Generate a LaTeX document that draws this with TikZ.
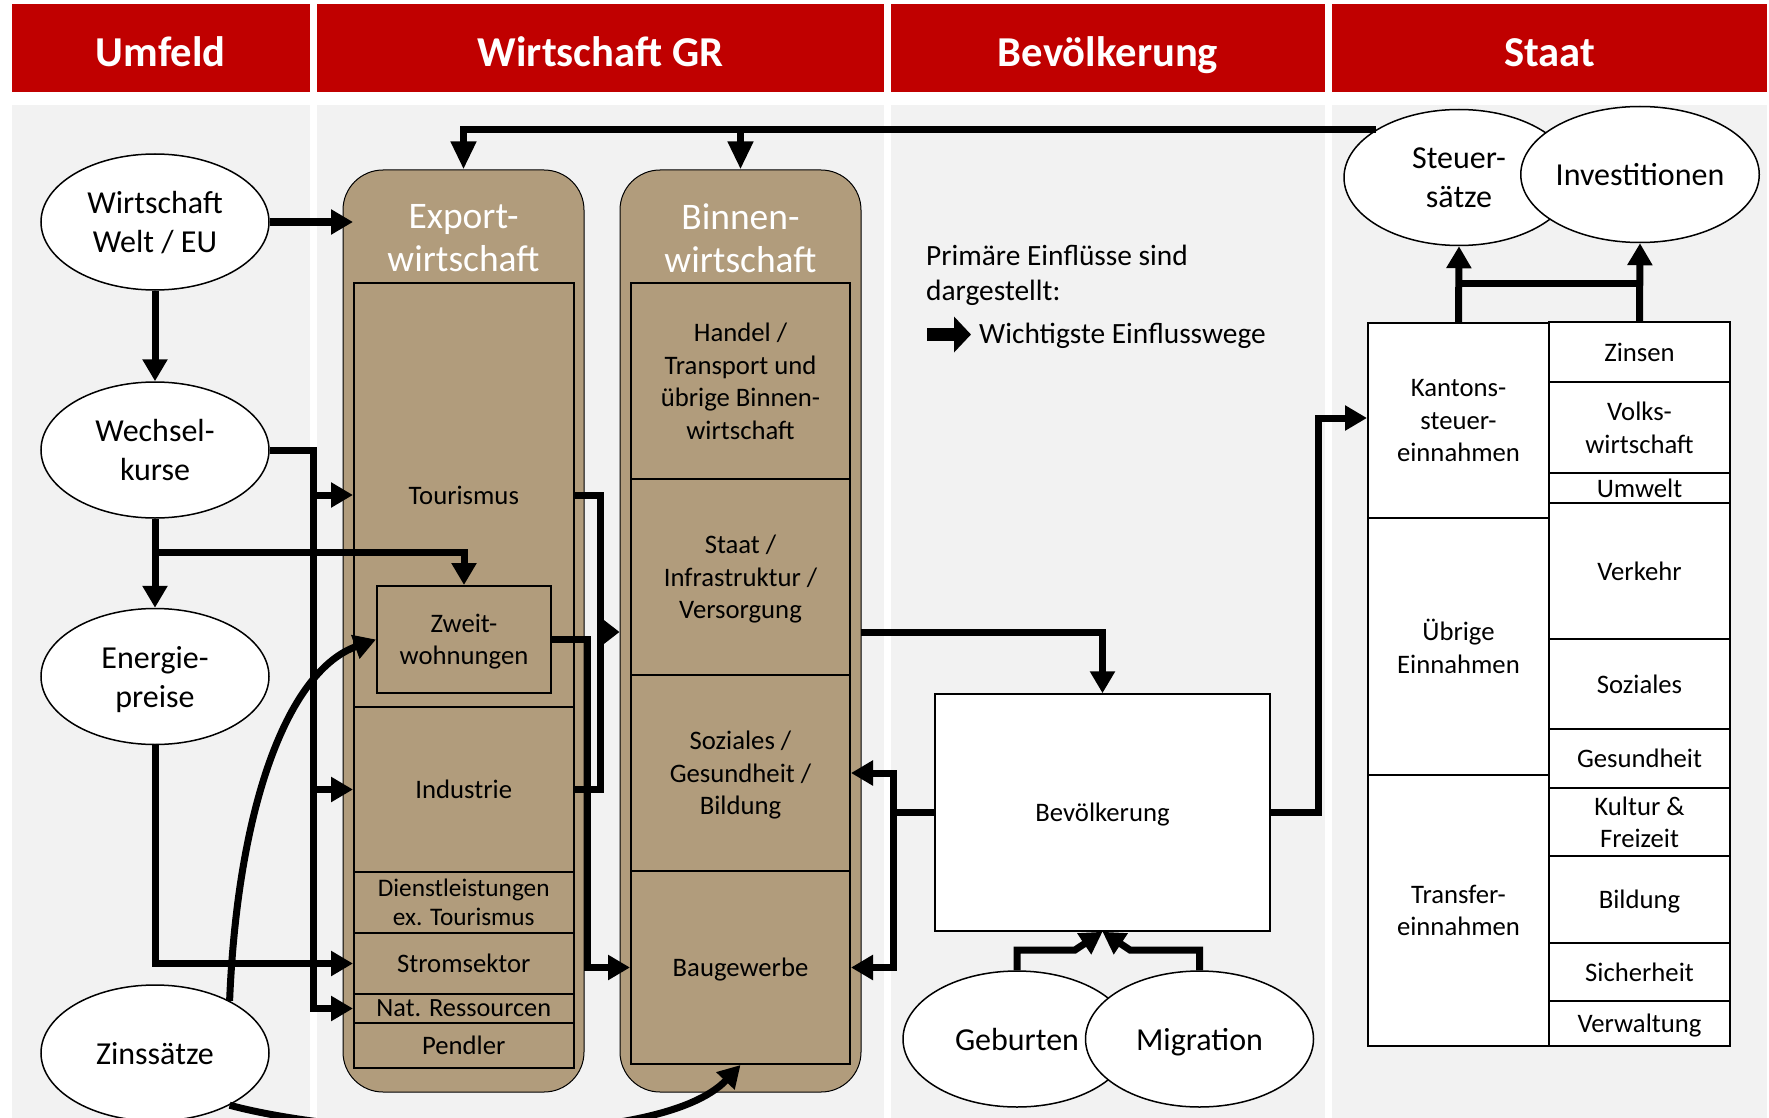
\documentclass[tikz,border=0pt]{standalone}
\usepackage{fontspec}
\setmainfont{Carlito}
\usetikzlibrary{arrows.meta,shapes.geometric}
\definecolor{hred}{RGB}{192,0,0}
\definecolor{pgray}{RGB}{242,242,242}
\definecolor{boxtan}{RGB}{177,156,124}
\begin{document}
\begin{tikzpicture}[x=1pt,y=-1pt,
  hdr/.style={text=white,font=\fontsize{42.6}{50}\selectfont\bfseries,inner sep=0pt},
  ell/.style={ellipse,draw,line width=1.5pt,fill=white,minimum width=228pt,minimum height=136pt,inner sep=0pt,font=\fontsize{32}{39}\selectfont,align=center,text depth=0pt},
  cell/.style={rectangle,draw,line width=2pt,inner sep=0pt,font=\fontsize{26.7}{32.5}\selectfont,align=center,text depth=0pt},
  tcell/.style={cell,fill=boxtan},
  wcell/.style={cell,fill=white},
  rbox/.style={rectangle,draw,line width=1pt,fill=boxtan,rounded corners=40pt,minimum width=241pt,minimum height=922pt,inner sep=0pt},
  coltitle/.style={text=white,font=\fontsize{37.5}{43}\selectfont,align=center,inner sep=0pt},
  legtxt/.style={font=\fontsize{29.4}{35}\selectfont,inner sep=0pt},
  conn/.style={line width=7pt},
  arr/.style={-{Triangle[length=22pt,width=24pt]}},
  arrL/.style={-{Triangle[length=28pt,width=24pt]}},
  arrS/.style={-{Triangle[length=17pt,width=25pt]}}
]
\useasboundingbox (0,0) rectangle (1769,1118);
\fill[white] (0,0) rectangle (1769,1118);
% panels
\foreach \a/\b in {11.5/310,317/884,891/1325,1332/1767}{
  \fill[pgray] (\a,105) rectangle (\b,1118);
  \fill[hred] (\a,4) rectangle (\b,92);
}
\node[hdr,anchor=base] (hU) at (160.75,67) {Umfeld};
\node[hdr,anchor=base] (hW) at (600.5,67) {Wirtschaft GR};
\node[hdr,anchor=base] (hB) at (1108,67) {Bevölkerung};
\node[hdr,anchor=base] (hS) at (1549.5,67) {Staat};

% Wirtschaft boxes
\node[rbox] (exp) at (463.5,631) {};
\node[rbox] (binnen) at (740.5,631) {};
\node[coltitle] (expt) at (463.5,238.6) {Export-\\wirtschaft};
\node[coltitle] (binnent) at (740.5,238.6) {Binnen-\\wirtschaft};

\node[tcell,minimum width=219.5pt,minimum height=424pt] (tour) at (463.75,495) {Tourismus};
\node[tcell,minimum width=174pt,minimum height=107pt] (zweit) at (464,639.5) {Zweit-\\wohnungen};
\node[tcell,minimum width=219.5pt,minimum height=165pt] (ind) at (463.75,789.5) {Industrie};
\node[tcell,font=\fontsize{25.3}{29}\selectfont,minimum width=219.5pt,minimum height=61pt] (dienst) at (463.75,902.5) {Dienstleistungen\\ex. Tourismus};
\node[tcell,minimum width=219.5pt,minimum height=61pt] (strom) at (463.75,963.5) {Stromsektor};
\node[tcell,font=\fontsize{26.3}{32}\selectfont,minimum width=219.5pt,minimum height=29pt] (natres) at (463.75,1008.5) {Nat. Ressourcen};
\node[tcell,minimum width=219.5pt,minimum height=45pt] (pendl) at (463.75,1045.5) {Pendler};

\node[tcell,minimum width=219pt,minimum height=196pt] (handel) at (740.5,381) {Handel /\\Transport und\\übrige Binnen-\\wirtschaft};
\node[tcell,minimum width=219pt,minimum height=196pt] (staatinf) at (740.5,577) {Staat /\\Infrastruktur /\\Versorgung};
\node[tcell,minimum width=219pt,minimum height=196pt] (soz) at (740.5,773) {Soziales /\\Gesundheit /\\Bildung};
\node[tcell,minimum width=219pt,minimum height=193pt] (bau) at (740.5,967.5) {Baugewerbe};

% Bevoelkerung
\node[legtxt,anchor=base west] (lt1) at (926,265) {Primäre Einflüsse sind};
\node[legtxt,anchor=base west] (lt2) at (926,300) {dargestellt:};
\node[legtxt,anchor=base west] (lt3) at (979,343) {Wichtigste Einflusswege};
\coordinate (lg1) at (927,334.5);
\coordinate (lg2) at (971,334.5);
\draw[line width=13pt,-{Triangle[length=17pt,width=35pt]}] (lg1) -- (lg2);

\node[wcell,line width=1.5pt,minimum width=335pt,minimum height=237pt] (bev) at (1102.5,812.5) {Bevölkerung};
\node[ell] (geb) at (1017,1039) {Geburten};
\node[ell] (migr) at (1199.5,1039) {Migration};

% Staat
\node[ell,minimum width=230pt] (steuer) at (1459,177.5) {Steuer-\\sätze};
\node[ell] (invest) at (1640,174.5) {Investitionen};

\node[wcell,minimum width=181pt,minimum height=195pt] (kant) at (1458.5,420.5) {Kantons-\\steuer-\\einnahmen};
\node[wcell,minimum width=181pt,minimum height=257pt] (uebrig) at (1458.5,646.5) {Übrige\\Einnahmen};
\node[wcell,minimum width=181pt,minimum height=271pt] (transfer) at (1458.5,910.5) {Transfer-\\einnahmen};

\node[wcell,minimum width=181pt,minimum height=60pt] (zinsen) at (1639.5,352) {Zinsen};
\node[wcell,minimum width=181pt,minimum height=91pt] (volks) at (1639.5,427.5) {Volks-\\wirtschaft};
\node[wcell,minimum width=181pt,minimum height=30pt] (umwelt) at (1639.5,488) {Umwelt};
\node[wcell,minimum width=181pt,minimum height=136pt] (verkehr) at (1639.5,571) {Verkehr};
\node[wcell,minimum width=181pt,minimum height=90pt] (sozs) at (1639.5,684) {Soziales};
\node[wcell,minimum width=181pt,minimum height=59pt] (gesund) at (1639.5,758.5) {Gesundheit};
\node[wcell,minimum width=181pt,minimum height=68pt] (kultur) at (1639.5,822) {Kultur \&\\Freizeit};
\node[wcell,minimum width=181pt,minimum height=87pt] (bildung) at (1639.5,899.5) {Bildung};
\node[wcell,minimum width=181pt,minimum height=58pt] (sicher) at (1639.5,972) {Sicherheit};
\node[wcell,minimum width=181pt,minimum height=45pt] (verwalt) at (1639.5,1023.5) {Verwaltung};

% Umfeld
\node[ell] (welt) at (155,222) {Wirtschaft\\Welt / EU};
\node[ell] (wechsel) at (155,450) {Wechsel-\\kurse};
\node[ell] (energie) at (155,676.5) {Energie-\\preise};
\node[ell] (zins) at (155,1053) {Zinssätze};

% connectors
\draw[conn,arr] (welt.east) -- (tour.west |- welt.east);
\draw[conn,arr] (welt.south) -- (wechsel.north);
\coordinate (wb) at (313,450);
\draw[conn,arr] (wechsel.east) -- (wb) |- (natres.west);
\draw[conn,arr] (wb |- tour.west) -- (tour.west);
\draw[conn,arr] (wb |- ind.west) -- (ind.west);
\draw[conn,arr] (wechsel.south) -- (energie.north);
\coordinate (wz) at (155,552);
\draw[conn,arr] (wz) -| (zweit.north);
\draw[conn,arr] (energie.south) |- (strom.west);
\draw[conn,arr] (zins.35) .. controls (238,800) and (290,670) .. (zweit.west);
\draw[conn,arr] (zins.-35) .. controls (360,1140) and (660,1150) .. (bau.south);

\coordinate (j1) at (600,632);
\draw[conn] (tour.east) -| (j1);
\draw[conn] (ind.east) -| (j1);
\draw[conn,arrS] (j1) -- (binnen.west |- j1);
\coordinate (j2) at (587,967.5);
\draw[conn,arr] (zweit.east) -| (j2) -- (bau.west);

\coordinate (j3) at (860.5,632);
\draw[conn,arr] (j3) -| (bev.north);
\coordinate (j4) at (893,812.5);
\draw[conn] (bev.west) -- (j4);
\draw[conn,arr] (j4) |- (soz.east);
\draw[conn,arr] (j4) |- (bau.east);
\coordinate (gm1) at (1075,950);
\coordinate (gm2) at (1130,950);
\draw[conn,arr] (geb.north) |- (gm1) -- (bev.south);
\draw[conn,arr] (migr.north) |- (gm2) -- (bev.south);
\coordinate (j5) at (1318,418);
\draw[conn,arr] (bev.east) -| (j5) -- (kant.west |- j5);

\coordinate (hb) at (0,283);
\draw[conn,arr] (kant.north) -- (steuer.south);
\draw[conn,arr] (zinsen.north) -- (invest.south);
\draw[conn] (kant.north |- hb) -- (zinsen.north |- hb);

\draw[conn,arrL] (steuer.150) -| (exp.north);
\coordinate (tb) at (binnen.north |- steuer.150);
\draw[conn,arrL] (tb) -- (binnen.north);
\end{tikzpicture}
\end{document}
